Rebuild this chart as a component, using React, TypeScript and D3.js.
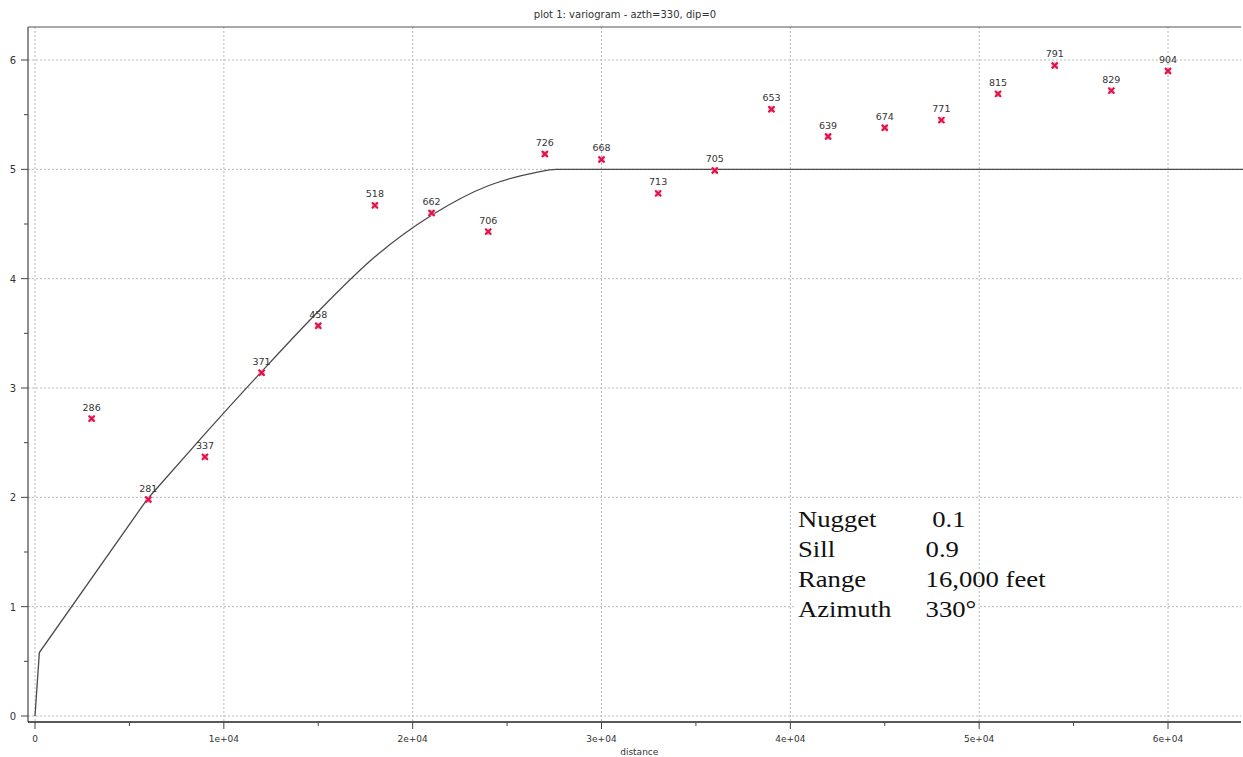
import React from 'react';
import * as d3 from 'd3';

// experimental variogram: lag distance, gamma, pair count
const lags = [3000, 6000, 9000, 12000, 15000, 18000, 21000, 24000, 27000, 30000,
  33000, 36000, 39000, 42000, 45000, 48000, 51000, 54000, 57000, 60000];
const gammas = [2.72, 1.98, 2.37, 3.14, 3.57, 4.67, 4.60, 4.43, 5.14, 5.09,
  4.78, 4.99, 5.55, 5.30, 5.38, 5.45, 5.69, 5.95, 5.72, 5.90];
const pairs = ['286', '281', '337', '371', '458', '518', '662', '706', '726', '668',
  '713', '705', '653', '639', '674', '771', '815', '791', '829', '904'];

// model curve (nugget jump, straight rise, then rounded top)
const nuggetX = [0, 230, 5930];
const nuggetY = [0, 0.58, 1.98];
const modelX = [5930, 9000, 12000, 15000, 18000, 21000, 24000, 26500, 27600, 64000];
const modelY = [1.98, 2.58, 3.15, 3.70, 4.20, 4.58, 4.85, 4.97, 5.0, 5.0];

const xTicks = [0, 10000, 20000, 30000, 40000, 50000, 60000];
const xTickLabels = ['0', '1e+04', '2e+04', '3e+04', '4e+04', '5e+04', '6e+04'];
const yTicks = [0, 1, 2, 3, 4, 5, 6];

const boxRows = ['Nugget', 'Sill', 'Range', 'Azimuth'];
const boxValues = [' 0.1', '0.9', '16,000 feet', '330°'];

export default function App() {
  const W = 1243, H = 757;
  const x = d3.scaleLinear().domain([0, 60000]).range([35, 1168]);
  const y = d3.scaleLinear().domain([0, 6]).range([716, 60]);
  const left = 28, top = 27, bottom = 722, right = 1241;

  const startLine = d3.line<number>()
    .x((_, i) => x(nuggetX[i]))
    .y((d) => y(d));
  const line = d3.line<number>()
    .x((_, i) => x(modelX[i]))
    .y((d) => y(d))
    .curve(d3.curveMonotoneX);

  const minorX = d3.range(5000, 65000, 10000);
  const minorY = d3.range(0.5, 6.5, 1);

  return (
    <svg width={W} height={H} style={{ position: 'absolute', left: 0, top: 0, background: '#fff' }}
      fontFamily="'DejaVu Sans', sans-serif">
      <text x={625} y={18} textAnchor="middle" fontSize={10} fill="#333">plot 1:  variogram - azth=330, dip=0</text>

      {/* grid */}
      {xTicks.map((t) => (
        <line key={'gx' + t} x1={x(t)} x2={x(t)} y1={top} y2={bottom} stroke="#b8b8b8" strokeDasharray="2,2" />
      ))}
      {yTicks.map((t) => (
        <line key={'gy' + t} x1={left} x2={right} y1={y(t)} y2={y(t)} stroke="#b8b8b8" strokeDasharray="2,2" />
      ))}

      {/* frame */}
      <line x1={left} x2={right} y1={top} y2={top} stroke="#555" strokeWidth={1.2} />
      <line x1={left} x2={left} y1={top} y2={bottom} stroke="#444" strokeWidth={1.2} />
      <line x1={left} x2={right} y1={bottom} y2={bottom} stroke="#222" strokeWidth={1.5} />

      {/* y axis */}
      {yTicks.map((t) => (
        <g key={'yt' + t}>
          <line x1={left - 7} x2={left} y1={y(t)} y2={y(t)} stroke="#444" />
          <text x={13} y={y(t) + 4} textAnchor="middle" fontSize={10} fill="#333">{t}</text>
        </g>
      ))}
      {minorY.map((t) => (
        <line key={'ym' + t} x1={left - 4} x2={left} y1={y(t)} y2={y(t)} stroke="#444" />
      ))}

      {/* x axis */}
      {xTicks.map((t, i) => (
        <g key={'xt' + t}>
          <line x1={x(t)} x2={x(t)} y1={bottom} y2={bottom + 7} stroke="#444" />
          <text x={x(t)} y={742} textAnchor="middle" fontSize={9} fill="#333">{xTickLabels[i]}</text>
        </g>
      ))}
      {minorX.map((t) => (
        <line key={'xm' + t} x1={x(t)} x2={x(t)} y1={bottom} y2={bottom + 4} stroke="#444" />
      ))}
      <text x={x(32000)} y={755} textAnchor="middle" fontSize={9} fill="#333">distance</text>

      {/* model */}
      <path d={startLine(nuggetY) || ''} fill="none" stroke="#4a4a4a" strokeWidth={1.3} />
      <path d={line(modelY) || ''} fill="none" stroke="#4a4a4a" strokeWidth={1.3} />

      {/* experimental points */}
      {lags.map((d, i) => {
        const cx = x(d), cy = y(gammas[i]);
        return (
          <g key={'p' + d}>
            <rect x={cx - 3} y={cy - 3} width={6} height={6} fill="#f7a3b8" />
            <path d={`M${cx - 3},${cy - 3}L${cx + 3},${cy + 3}M${cx + 3},${cy - 3}L${cx - 3},${cy + 3}`}
              stroke="#e01048" strokeWidth={2} />
            <text x={cx} y={cy - 8} textAnchor="middle" fontSize={9.5} fill="#333">{pairs[i]}</text>
          </g>
        );
      })}

      {/* parameter box */}
      <rect x={795} y={500} width={183} height={126} fill="#fff" />
      <g transform="translate(798,0) scale(1.16,1)"
        fontFamily="'Liberation Serif', 'Times New Roman', serif" fontSize={23} fill="#111">
        {boxRows.map((r, i) => (
          <g key={r}>
            <text x={0} y={527 + i * 30}>{r}</text>
            <text x={110} y={527 + i * 30} style={{ whiteSpace: 'pre' }}>{boxValues[i]}</text>
          </g>
        ))}
      </g>
    </svg>
  );
}
